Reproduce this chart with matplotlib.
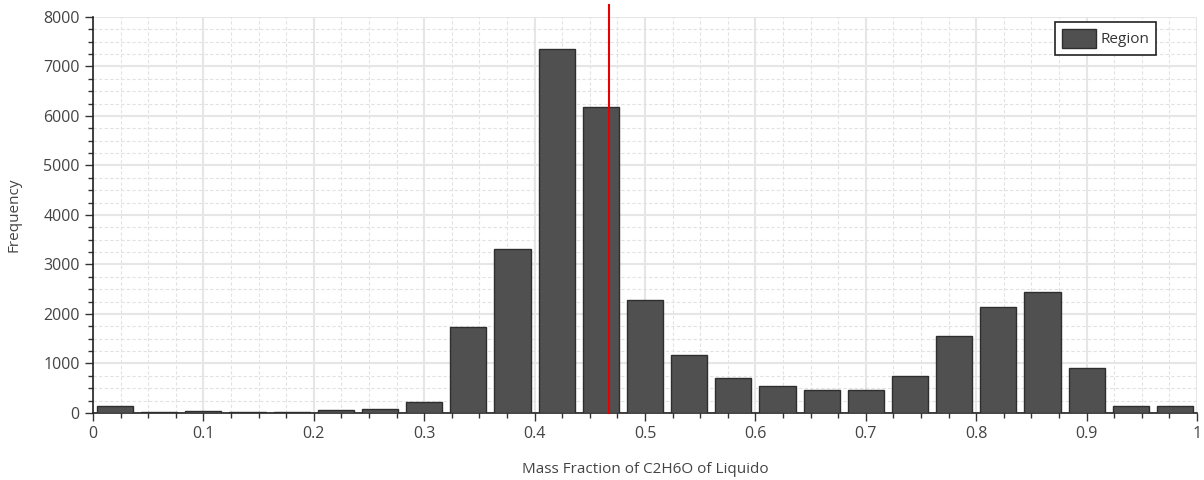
import numpy as np
import matplotlib.pyplot as plt
from matplotlib.ticker import MultipleLocator, FuncFormatter

plt.rcParams['font.family'] = ['Open Sans', 'DejaVu Sans']

# histogram of mass fraction, 25 bins of width 0.04
bin_width = 0.04
bin_centers = np.arange(25) * bin_width + bin_width / 2
counts = [141, 30, 33, 30, 30, 67, 87, 229, 1731, 3320, 7347, 6188, 2283,
          1165, 713, 539, 471, 458, 750, 1562, 2135, 2444, 903, 148, 148]
mean_value = 0.4675

fig = plt.figure(figsize=(12.04, 4.8), dpi=100)
ax = fig.add_axes([0.0772, 0.1396, 0.9170, 0.8250])

ax.bar(bin_centers, counts, width=bin_width * 0.82, color='#505050',
       edgecolor='#2e2e2e', linewidth=1.0, label='Region', zorder=3)
ax.axvline(mean_value, ymin=0, ymax=1.03, color='#e80000', linewidth=1.5,
           clip_on=False, zorder=4)

ax.set_xlim(0, 1)
ax.set_ylim(0, 8000)
ax.xaxis.set_major_locator(MultipleLocator(0.1))
ax.xaxis.set_minor_locator(MultipleLocator(0.025))
ax.yaxis.set_major_locator(MultipleLocator(1000))
ax.yaxis.set_minor_locator(MultipleLocator(250))
ax.xaxis.set_major_formatter(FuncFormatter(lambda v, p: f'{v:g}'))

ax.grid(which='major', color='#e6e6e6', linewidth=1.5, zorder=0)
ax.grid(which='minor', color='#e2e2e2', linewidth=0.8, linestyle=(0, (3, 2)), zorder=0)
ax.set_axisbelow(True)

for s in ['top', 'right']:
    ax.spines[s].set_visible(False)
for s in ['left', 'bottom']:
    ax.spines[s].set_color('#222222')
    ax.spines[s].set_linewidth(1.2)

ax.tick_params(which='major', length=6, width=1, color='#333333',
               labelsize=11.5, labelcolor='#444444')
ax.tick_params(which='minor', length=3.5, width=1, color='#333333')

ax.set_xlabel('Mass Fraction of C2H6O of Liquido', fontsize=11,
              color='#444444', labelpad=14)
ax.set_ylabel('Frequency', fontsize=11, color='#444444', labelpad=16)

leg = ax.legend(loc='upper right', bbox_to_anchor=(0.963, 0.988), fontsize=11,
                frameon=True, fancybox=False, handlelength=2.2,
                handleheight=1.6, borderpad=0.45, handletextpad=0.3,
                borderaxespad=0)
leg.get_frame().set_edgecolor('#222222')
leg.get_frame().set_linewidth(1.2)
leg.get_frame().set_alpha(1)
for t in leg.get_texts():
    t.set_color('#333333')

fig.savefig('out.png', dpi=100)
